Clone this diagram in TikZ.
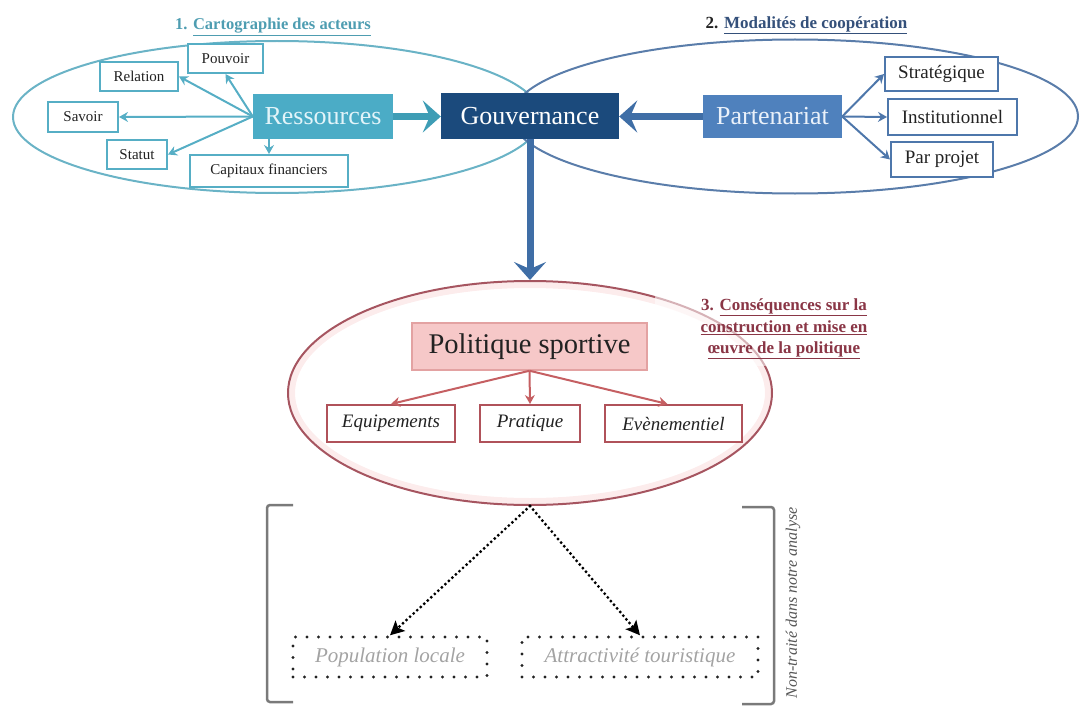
\documentclass[tikz,border=0pt]{standalone}
\usepackage{fontspec}
\setmainfont{Liberation Serif}
\usetikzlibrary{arrows.meta,shapes.geometric}

\definecolor{cTealFill}{HTML}{4BACC6}
\definecolor{cTealText}{HTML}{E2F4F9}
\definecolor{cTealLine}{HTML}{56AEC5}
\definecolor{cTealOval}{HTML}{6AB3C6}
\definecolor{cTealArrow}{HTML}{3E9DB5}
\definecolor{cTealTitle}{HTML}{4E9DB1}
\definecolor{cNavy}{HTML}{1B4A7C}
\definecolor{cBlueFill}{HTML}{4F81BD}
\definecolor{cBlueText}{HTML}{EAF1FA}
\definecolor{cBlueLine}{HTML}{4E77AB}
\definecolor{cBlueOval}{HTML}{5A7DAA}
\definecolor{cBlueArrow}{HTML}{3F6EA6}
\definecolor{cNavyTitle}{HTML}{34507A}
\definecolor{cPinkFill}{HTML}{F6C8C8}
\definecolor{cPinkEdge}{HTML}{E3A2A2}
\definecolor{cPinkGlow}{HTML}{F2B3B3}
\definecolor{cRedLine}{HTML}{B0525A}
\definecolor{cRedArrow}{HTML}{C55F62}
\definecolor{cRedOval}{HTML}{A65560}
\definecolor{cMaroon}{HTML}{8A3646}
\definecolor{cInk}{HTML}{222222}
\definecolor{cBracket}{HTML}{7A7A7A}
\definecolor{cGreyText}{HTML}{A3A3A3}
\definecolor{cSideText}{HTML}{555555}

\newcommand{\fsz}[1]{\fontsize{#1}{#1}\selectfont}

\tikzset{
  x=1pt, y=-1pt,
  smallbox/.style={draw, line width=2pt, fill=white, inner sep=0pt, text=cInk},
  tealbox/.style={smallbox, draw=cTealLine, font=\fsz{15}},
  bluebox/.style={smallbox, draw=cBlueLine, font=\fsz{19}},
  redbox/.style={smallbox, draw=cRedLine, font=\itshape\fsz{19}},
  bigbox/.style={inner sep=0pt, font=\fsz{26}},
  dotbox/.style={draw=cInk, line width=3.4pt, line cap=round, dash pattern=on 0pt off 11.5pt,
                 inner sep=0pt, text=cGreyText, font=\itshape\fsz{21}},
  oval/.style={ellipse, draw, line width=2pt, inner sep=0pt},
  thinarrow/.style={line width=2pt, -{Stealth[length=9pt,width=10pt,inset=3pt]}},
  thickarrow/.style={line width=7pt, -{Stealth[length=18pt,width=32pt,inset=7pt]}},
  dotarrow/.style={draw=black, line width=3.2pt, line cap=round, dash pattern=on 0pt off 4.8pt,
                   -{Stealth[length=14pt,width=14pt,inset=3pt]}},
}

\begin{document}
\begin{tikzpicture}
\useasboundingbox (0,0) rectangle (1080,709);

% the two upper ovals
\node[oval, draw=cTealOval, minimum width=528, minimum height=152] (ovalA) at (277,117) {};
\node[oval, draw=cBlueOval, minimum width=566, minimum height=154] (ovalB) at (795,116.5) {};

% the lower oval with its soft inner rim
\draw[cPinkGlow, line width=6pt, opacity=.25] (530,393) ellipse [x radius=238, y radius=108];
\node[oval, draw=cRedOval, minimum width=484, minimum height=224] (ovalC) at (530,393) {};

% headings
\node[font=\bfseries\fsz{16.5}, text=cTealTitle] (titleA) at (273,27)
  {1. \underline{Cartographie des acteurs}};
\node[font=\bfseries\fsz{17}, text=cNavyTitle] (titleB) at (806.5,25)
  {\textcolor{cInk}{2.} \underline{Modalités de coopération}};
\node[fill=white, fill opacity=.55, text opacity=1, minimum width=258, minimum height=74,
      inner sep=0pt, align=center, font=\bfseries\fontsize{17}{21.5}\selectfont, text=cMaroon]
  (titleC) at (784,329)
  {3. \underline{Conséquences sur la}\\ \underline{construction et mise en}\\ \underline{œuvre de la politique}};

% central boxes
\node[bigbox, fill=cTealFill, text=cTealText, minimum width=140, minimum height=45] (res) at (323,116.5) {Ressources};
\node[bigbox, fill=cNavy, text=white, minimum width=178, minimum height=45] (gov) at (530,116) {Gouvernance};
\node[bigbox, fill=cBlueFill, text=cBlueText, minimum width=139, minimum height=43] (part) at (772.5,116.5) {Partenariat};

% resources
\node[tealbox, minimum width=75, minimum height=29] (pouv) at (225.5,58.5) {Pouvoir};
\node[tealbox, minimum width=78, minimum height=29] (rel) at (139,76.5) {Relation};
\node[tealbox, minimum width=70, minimum height=30] (sav) at (83,117) {Savoir};
\node[tealbox, minimum width=60, minimum height=29] (stat) at (137,154.5) {Statut};
\node[tealbox, minimum width=158, minimum height=32] (cap) at (269,171) {Capitaux financiers};

% partnership types
\node[bluebox, minimum width=113, minimum height=34] (strat) at (941.5,74) {Stratégique};
\node[bluebox, minimum width=129, minimum height=36] (inst) at (952.5,117) {Institutionnel};
\node[bluebox, minimum width=102, minimum height=35] (proj) at (942,159.5) {Par projet};

% sports policy
\node[inner sep=0pt, fill=cPinkFill, draw=cPinkEdge, line width=1.5pt, text=cInk,
      font=\fsz{28.5}, minimum width=235, minimum height=47] (pol) at (529.5,346.5) {Politique sportive};
\node[redbox, minimum width=128, minimum height=37] (equ) at (391,423.5) {Equipements};
\node[redbox, minimum width=100, minimum height=37] (prat) at (530,423.5) {Pratique};
\node[redbox, minimum width=137, minimum height=37] (evt) at (673.5,423.5) {Evènementiel};

% outcomes outside the analysis
\node[dotbox, minimum width=194, minimum height=40] (popu) at (390,657) {Population locale};
\node[dotbox, minimum width=236, minimum height=40] (attr) at (640,657) {Attractivité touristique};
\node[rotate=90, font=\itshape\fsz{16}, text=cSideText] (side) at (793,603) {Non-traité dans notre analyse};

% brackets
\draw[cBracket, line width=2.5pt, rounded corners=3pt] (293,505) -- (267,505) -- (267,702) -- (293,702);
\draw[cBracket, line width=2.5pt, rounded corners=3pt] (742,507) -- (774,507) -- (774,704) -- (742,704);

% connectors
\draw[thickarrow, cTealArrow] (res.east) -- (res.east -| gov.west);
\draw[thickarrow, cBlueArrow] (part.west) -- (part.west -| gov.east);
\draw[thickarrow, cBlueArrow] (gov.south) -- (gov.south |- ovalC.north);

\draw[thinarrow, cTealLine] (res.west) -- (pouv.south);
\draw[thinarrow, cTealLine] (res.west) -- (rel.east);
\draw[thinarrow, cTealLine] (res.west) -- (sav.east);
\draw[thinarrow, cTealLine] (res.west) -- (stat.east);
\draw[thinarrow, cTealLine] (res.south -| cap.north) -- (cap.north);

\draw[thinarrow, cBlueLine] (part.east) -- (strat.west);
\draw[thinarrow, cBlueLine] (part.east) -- (inst.west);
\draw[thinarrow, cBlueLine] (part.east) -- (proj.west);

\draw[thinarrow, cRedArrow] (pol.south) -- (equ.north);
\draw[thinarrow, cRedArrow] (pol.south) -- (prat.north);
\draw[thinarrow, cRedArrow] (pol.south) -- ([xshift=-6pt]evt.north);

\draw[dotarrow] (ovalC.south) -- (popu.north);
\draw[dotarrow] (ovalC.south) -- (attr.north);
\end{tikzpicture}
\end{document}
